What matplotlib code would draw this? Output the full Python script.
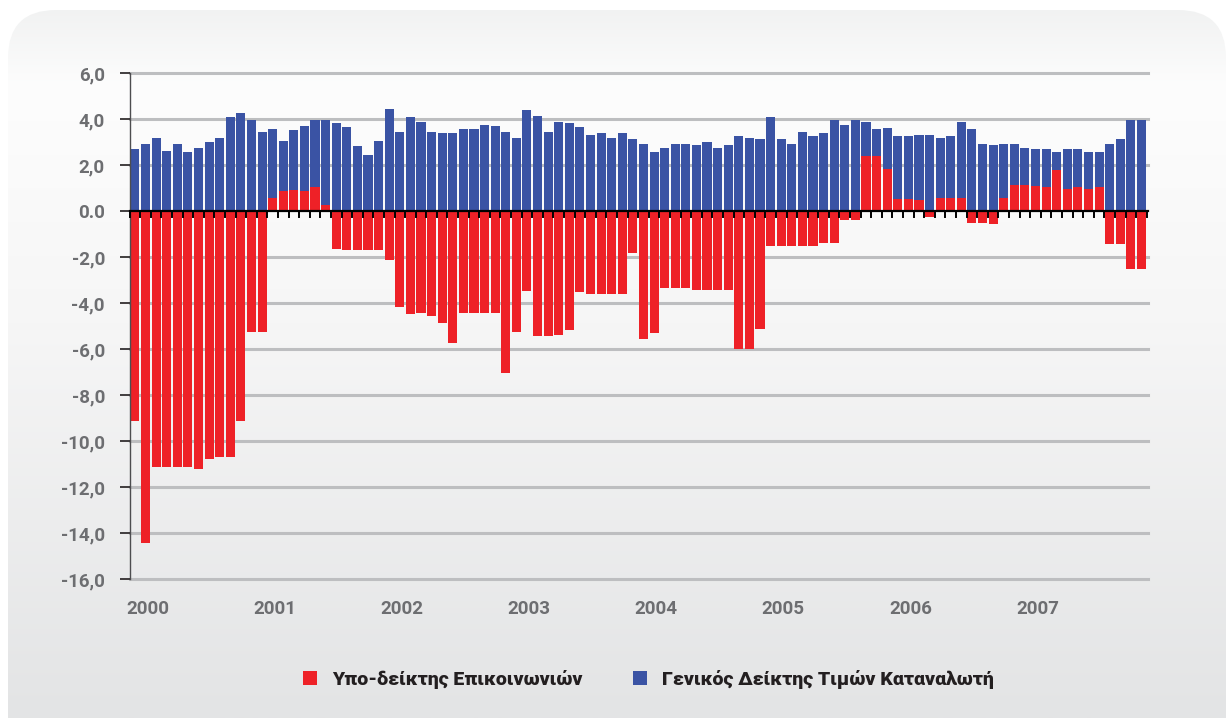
import numpy as np
import matplotlib.pyplot as plt
from matplotlib.patches import FancyBboxPatch, Patch
from matplotlib.colors import LinearSegmentedColormap

plt.rcParams['font.family'] = ['Roboto', 'DejaVu Sans']

# monthly values, Jan 2000 .. Dec 2007
general_cpi = [
    2.70, 2.91, 3.17, 2.61, 2.91, 2.57, 2.74, 3.00, 3.17, 4.09, 4.26, 3.96,
    3.43, 3.57, 3.04, 3.52, 3.68, 3.94, 3.94, 3.81, 3.64, 2.81, 2.42, 3.03,
    4.42, 3.42, 4.07, 3.86, 3.42, 3.38, 3.38, 3.55, 3.55, 3.72, 3.68, 3.42,
    3.16, 4.38, 4.12, 3.42, 3.86, 3.81, 3.64, 3.30, 3.38, 3.16, 3.38, 3.13,
    2.90, 2.55, 2.72, 2.90, 2.90, 2.86, 2.99, 2.72, 2.86, 3.25, 3.16, 3.12,
    4.07, 3.12, 2.90, 3.42, 3.25, 3.38, 3.94, 3.72, 3.94, 3.86, 3.55, 3.59,
    3.25, 3.25, 3.29, 3.29, 3.16, 3.25, 3.86, 3.55, 2.90, 2.86, 2.90, 2.90,
    2.72, 2.68, 2.68, 2.55, 2.68, 2.68, 2.55, 2.55, 2.90, 3.12, 3.94, 3.94,
]
comm_subindex = [
    -9.12, -14.42, -11.12, -11.12, -11.12, -11.12, -11.20, -10.77, -10.68, -10.68, -9.12, -5.25,
    -5.25, 0.57, 0.88, 0.90, 0.86, 1.04, 0.26, -1.67, -1.71, -1.71, -1.71, -1.71,
    -2.14, -4.19, -4.49, -4.45, -4.58, -4.88, -5.75, -4.44, -4.43, -4.43, -4.43, -7.04,
    -5.28, -3.49, -5.45, -5.45, -5.41, -5.19, -3.54, -3.62, -3.62, -3.62, -3.62, -1.84,
    -5.58, -5.32, -3.36, -3.36, -3.36, -3.45, -3.45, -3.45, -3.45, -6.00, -6.00, -5.14,
    -1.54, -1.54, -1.54, -1.54, -1.54, -1.41, -1.41, -0.41, -0.41, 2.38, 2.38, 1.81,
    0.51, 0.51, 0.46, -0.28, 0.55, 0.55, 0.55, -0.54, -0.54, -0.58, 0.55, 1.12,
    1.12, 1.07, 1.03, 1.77, 0.94, 1.03, 0.94, 1.03, -1.45, -1.45, -2.54, -2.54,
]
years = ['2000', '2001', '2002', '2003', '2004', '2005', '2006', '2007']
y_ticks = [6, 4, 2, 0, -2, -4, -6, -8, -10, -12, -14, -16]
y_labels = ['6,0', '4,0', '2,0', '0.0', '-2,0', '-4,0', '-6,0', '-8,0',
            '-10,0', '-12,0', '-14,0', '-16,0']
legend_labels = ['Υπο-δείκτης Επικοινωνιών', 'Γενικός Δείκτης Τιμών Καταναλωτή']

RED = '#ee2127'
BLUE = '#3a53a4'
GREY_TXT = '#6d6e71'

fig = plt.figure(figsize=(12.26, 7.18), dpi=100, facecolor='white')

# rounded panel with vertical gradient
bg = fig.add_axes([0, 0, 1, 1])
bg.set_xlim(0, 1226)
bg.set_ylim(718, 0)
bg.axis('off')
panel = FancyBboxPatch((8, 10), 1218, 760, boxstyle='round,pad=0,rounding_size=48',
                       facecolor='none', edgecolor='none')
bg.add_patch(panel)
cmap = LinearSegmentedColormap.from_list(
    'bg', [(0, '#f0f1f1'), (0.12, '#fdfdfd'), (0.45, '#f6f6f6'), (1, '#e3e4e5')])
grad = np.linspace(0, 1, 256).reshape(-1, 1)
im = bg.imshow(grad, cmap=cmap, aspect='auto', extent=[0, 1226, 718, 0])
im.set_clip_path(panel)

ax = fig.add_axes([0.106, 0.1936, 0.8303, 0.7047])
ax.set_facecolor('none')
x = np.arange(len(general_cpi))

for v in y_ticks:
    if v != 0:
        ax.axhline(v, color='#bdbec0', lw=2.2, zorder=0, clip_on=False)

ax.bar(x, general_cpi, width=0.86, color=BLUE, zorder=2)
ax.bar(x, comm_subindex, width=0.86, color=RED, zorder=2)

ax.axhline(0, color='black', lw=1.6, zorder=4, clip_on=False)
for b in np.arange(-0.5, len(x) + 0.5, 1.0):
    ax.plot([b, b], [0, -0.27], color='black', lw=1.4, zorder=4, clip_on=False)

ax.set_xlim(-0.47, 95.61)
ax.set_ylim(-16, 6)

ax.set_yticks(y_ticks)
ax.set_yticklabels(y_labels, fontsize=13.5, fontweight='bold', color=GREY_TXT)
ax.tick_params(axis='y', length=7, width=1.2, color='#231f20', pad=11)

ax.set_xticks([12 * i + 1.2 for i in range(len(years))])
ax.set_xticklabels(years, fontsize=13.5, fontweight='bold', color=GREY_TXT)
ax.tick_params(axis='x', length=0, pad=15)

for s in ['top', 'right', 'bottom']:
    ax.spines[s].set_visible(False)
ax.spines['left'].set_color('#4d4d4f')
ax.spines['left'].set_linewidth(1.0)

handles = [Patch(facecolor=RED), Patch(facecolor=BLUE)]
fig.legend(handles, legend_labels, loc='center', bbox_to_anchor=(0.529, 0.054),
           ncol=2, frameon=False, handlelength=0.7, handleheight=0.7,
           handletextpad=0.8, columnspacing=2.6,
           prop={'weight': 'black', 'size': 14}, labelcolor='#231f20')

fig.savefig('out.png', dpi=100, facecolor='white')
